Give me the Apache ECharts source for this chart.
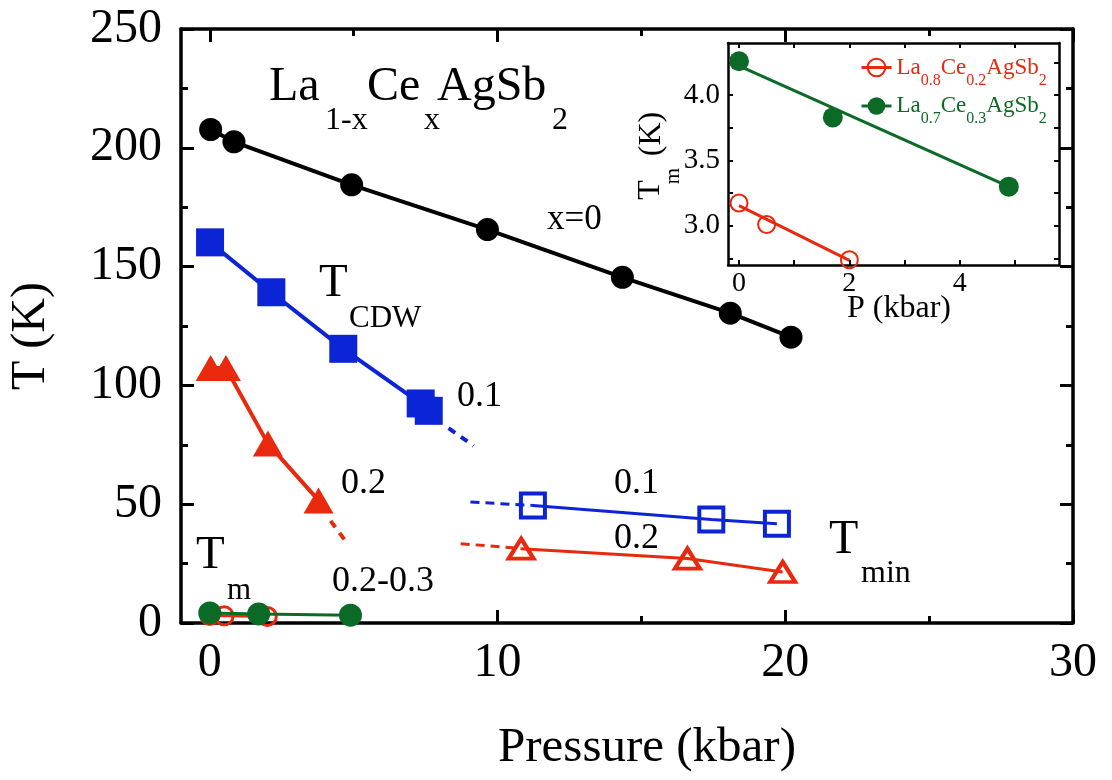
<!DOCTYPE html>
<html><head><meta charset="utf-8">
<script src="https://cdn.jsdelivr.net/npm/echarts@6/dist/echarts.min.js"></script>
<style>html,body{margin:0;padding:0;background:#fff}#c{width:1112px;height:780px}</style>
</head><body><div id="c"></div>
<script>
// ---------- data ----------
// T_CDW, x = 0
const x0P = [0.03, 0.84, 4.93, 9.65, 14.34, 18.09, 20.2];
const x0T = [207.7, 202.5, 184.4, 165.6, 145.5, 130.4, 120.3];
// T_CDW, x = 0.1
const cdw01P = [0.01, 2.14, 4.64, 7.33, 7.61];
const cdw01T = [160.2, 139.2, 115.4, 92.4, 89.3];
const cdw01ExtP = [8.3, 9.17];
const cdw01ExtT = [82.0, 74.6];
// T_CDW, x = 0.2
const cdw02P = [0.03, 0.56, 2.02, 3.78];
const cdw02T = [107.3, 107.3, 75.5, 51.6];
const cdw02ExtP = [4.2, 4.75];
const cdw02ExtT = [43.0, 34.0];
// T_min, x = 0.1
const tmin01P = [11.23, 17.43, 19.71];
const tmin01T = [49.5, 43.6, 41.8];
const tmin01ExtP = [9.06, 11.23];
const tmin01ExtT = [50.9, 49.5];
// T_min, x = 0.2
const tmin02P = [10.82, 16.6, 19.91];
const tmin02T = [31.3, 27.1, 21.5];
const tmin02ExtP = [8.72, 10.82];
const tmin02ExtT = [33.4, 31.3];
// T_m (x = 0.2 and x = 0.3)
const tm02P = [0, 0.5, 2.0];
const tm02T = [3.175, 3.01, 2.74];
const tm03P = [0, 1.7, 4.89];
const tm03T = [4.26, 3.83, 3.30];
// linear fits shown in the inset
const tm02FitP = [0, 2.0];
const tm02FitT = [3.155, 2.735];
const tm03FitP = [0, 4.89];
const tm03FitT = [4.224, 3.30];
// ticks
const mainXMajor = [0, 10, 20, 30];
const mainXMinor = [5, 15, 25];
const insetXTicks = [0, 1, 2, 3, 4, 5];
const insetXLabels = [0, 2, 4];
const insetYTicks = [2.75, 3.0, 3.25, 3.5, 3.75, 4.0, 4.25];
const insetYLabels = [3.0, 3.5, 4.0];
const legendNames = ['La0.8Ce0.2AgSb2', 'La0.7Ce0.3AgSb2'];

// ---------- styling ----------
const FF = '"Liberation Serif", "Times New Roman", serif';
const BLACK = '#000000', BLUE = '#0b24d6', RED = '#e8290e', GREEN = '#0b6b26';
const zip = (a, b) => a.map((v, i) => [v, b[i]]);

function xAx(grid, pos, min, max, ticks, len, w, labels, fs, lineW, showLine) {
  return {
    type: 'value', gridIndex: grid, position: pos, min: min, max: max,
    axisLine: { show: showLine, onZero: false, lineStyle: { color: BLACK, width: lineW } },
    axisTick: { show: true, inside: true, length: len, customValues: ticks, lineStyle: { color: BLACK, width: w } },
    axisLabel: labels ? { show: true, customValues: labels, fontSize: fs, fontFamily: FF, color: BLACK, margin: grid === 0 ? 16 : 5 } : { show: false },
    splitLine: { show: false }, minorSplitLine: { show: false }
  };
}

const xAxes = [
  xAx(0, 'bottom', -1, 30, mainXMajor, 13, 3, mainXMajor, 48, 3.5, true),
  xAx(0, 'bottom', -1, 30, mainXMinor, 7, 3, null, 48, 3.5, false),
  xAx(0, 'top', -1, 30, mainXMajor, 13, 3, null, 48, 3.5, true),
  xAx(0, 'top', -1, 30, mainXMinor, 7, 3, null, 48, 3.5, false),
  xAx(1, 'bottom', -0.2, 5.8, insetXTicks, 5, 2, insetXLabels, 28, 2.5, true),
  xAx(1, 'top', -0.2, 5.8, insetXTicks, 5, 2, null, 28, 2.5, true)
];

function mainY(pos, labels) {
  return {
    type: 'value', gridIndex: 0, position: pos, min: 0, max: 250, interval: 50,
    axisLine: { show: true, onZero: false, lineStyle: { color: BLACK, width: 3.5 } },
    axisTick: { show: true, inside: true, length: 13, lineStyle: { color: BLACK, width: 3 } },
    minorTick: { show: true, splitNumber: 2, length: 7, lineStyle: { color: BLACK, width: 3 } },
    axisLabel: labels ? { show: true, fontSize: 48, fontFamily: FF, color: BLACK, margin: 19 } : { show: false },
    splitLine: { show: false }, minorSplitLine: { show: false }
  };
}
function insetY(pos, labels) {
  return {
    type: 'value', gridIndex: 1, position: pos, min: 2.7, max: 4.4,
    axisLine: { show: true, onZero: false, lineStyle: { color: BLACK, width: 2.5 } },
    axisTick: { show: true, inside: true, length: 5, customValues: insetYTicks, lineStyle: { color: BLACK, width: 2 } },
    axisLabel: labels ? { show: true, customValues: insetYLabels, formatter: v => Number(v).toFixed(1), fontSize: 29, fontFamily: FF, color: BLACK, margin: 8 } : { show: false },
    splitLine: { show: false }, minorSplitLine: { show: false }
  };
}
const yAxes = [mainY('left', true), mainY('right', false), insetY('left', true), insetY('right', false)];

function lineSer(name, P, T, o) {
  return {
    name: name, type: 'line', xAxisIndex: o.xi || 0, yAxisIndex: o.yi || 0,
    data: zip(P, T), silent: true, animation: false, z: o.z || 3,
    symbol: o.symbol || 'none', symbolSize: o.size || 0, showSymbol: o.showSymbol !== false,
    lineStyle: { color: o.color, width: o.lw, type: o.dash || 'solid' },
    itemStyle: o.hollow ? { color: 'rgba(0,0,0,0)', borderColor: o.color, borderWidth: o.bw, opacity: 1 } : { color: o.color, borderWidth: 0, opacity: 1 },
    emphasis: { disabled: true }
  };
}

const series = [
  // main plot
  lineSer('cdw01ext', cdw01ExtP, cdw01ExtT, { color: BLUE, lw: 4, dash: [8, 7], z: 2 }),
  lineSer('cdw02ext', cdw02ExtP, cdw02ExtT, { color: RED, lw: 4, dash: [8, 7], z: 2 }),
  lineSer('tmin01ext', tmin01ExtP, tmin01ExtT, { color: BLUE, lw: 3, dash: [9, 6], z: 2 }),
  lineSer('tmin02ext', tmin02ExtP, tmin02ExtT, { color: RED, lw: 3, dash: [9, 6], z: 2 }),
  lineSer('x0', x0P, x0T, { color: BLACK, lw: 4, symbol: 'circle', size: 23 }),
  lineSer('cdw01', cdw01P, cdw01T, { color: BLUE, lw: 4, symbol: 'rect', size: 28 }),
  lineSer('cdw02', cdw02P, cdw02T, { color: RED, lw: 4, symbol: 'triangle', size: [30, 26] }),
  lineSer('tmin01', tmin01P, tmin01T, { color: BLUE, lw: 3, symbol: 'rect', size: 24, hollow: true, bw: 4 }),
  lineSer('tmin02', tmin02P, tmin02T, { color: RED, lw: 3, symbol: 'triangle', size: [25, 20], hollow: true, bw: 4 }),
  lineSer('tm02main', tm02P, tm02T, { color: RED, lw: 3, symbol: 'circle', size: 18, hollow: true, bw: 3, z: 4 }),
  lineSer('tm03main', tm03P, tm03T, { color: GREEN, lw: 3, symbol: 'circle', size: 23, z: 5 }),
  // inset: fits (carry the legend) and points
  lineSer(legendNames[0], tm02FitP, tm02FitT, { xi: 4, yi: 2, color: RED, lw: 3, symbol: 'circle', size: 16, showSymbol: false, hollow: true, bw: 2, z: 6 }),
  lineSer(legendNames[1], tm03FitP, tm03FitT, { xi: 4, yi: 2, color: GREEN, lw: 3, symbol: 'circle', size: 19, showSymbol: false, z: 6 }),
  { name: 'tm02pts', type: 'scatter', xAxisIndex: 4, yAxisIndex: 2, data: zip(tm02P, tm02T), symbol: 'circle', symbolSize: 17,
    itemStyle: { color: 'rgba(0,0,0,0)', borderColor: RED, borderWidth: 2, opacity: 1 }, silent: true, animation: false, z: 7 },
  { name: 'tm03pts', type: 'scatter', xAxisIndex: 4, yAxisIndex: 2, data: zip(tm03P, tm03T), symbol: 'circle', symbolSize: 20,
    itemStyle: { color: GREEN, opacity: 1 }, silent: true, animation: false, z: 7 }
];

// ---------- text annotations ----------
function txt(s, x, baseline, fs, opt) {
  opt = opt || {};
  return {
    type: 'text', x: x, y: baseline, z: 100, silent: true,
    style: { text: s, x: 0, y: -0.305 * fs, font: fs + 'px ' + FF, fill: opt.color || BLACK,
             align: opt.align || 'left', textAlign: opt.align || 'left',
             verticalAlign: 'middle', textVerticalAlign: 'middle' }
  };
}
function rtxt(s, cx, cy, fs) { // rotated 90deg, centred at (cx, cy) on the em-middle
  return {
    type: 'text', x: cx, y: cy, rotation: Math.PI / 2, z: 100, silent: true,
    style: { text: s, x: 0, y: 0, font: fs + 'px ' + FF, fill: BLACK, align: 'center', textAlign: 'center', verticalAlign: 'middle', textVerticalAlign: 'middle' }
  };
}

const graphics = [
  txt('La', 269, 102, 48), txt('1-x', 325, 130, 32), txt('Ce', 367, 102, 48), txt('x', 424, 130, 32),
  txt('AgSb', 437, 102, 48), txt('2', 552, 130, 32),
  txt('x=0', 547, 230, 35),
  txt('T', 319, 298, 47), txt('CDW', 349, 328, 31),
  txt('0.1', 457, 408, 36),
  txt('0.2', 341, 495, 36),
  txt('T', 196, 570, 47), txt('m', 227, 600, 31),
  txt('0.2-0.3', 332, 593, 36),
  txt('0.1', 614, 495, 36),
  txt('0.2', 614, 550, 36),
  txt('T', 829, 555, 48), txt('min', 861, 583, 32),
  txt('Pressure (kbar)', 647, 763, 49, { align: 'center' }),
  rtxt('T (K)', 31, 336, 48),
  txt('P (kbar)', 899, 318, 32, { align: 'center' }),
  rtxt('T', 651, 190, 32), rtxt('m', 673, 176, 21), rtxt('(K)', 652, 134, 32)
];

const richStyles = {};
[['r', RED], ['g', GREEN]].forEach(([k, c]) => {
  richStyles[k + 'b'] = { color: c, fontSize: 23, fontFamily: FF, lineHeight: 42 };
  richStyles[k + 's'] = { color: c, fontSize: 16, fontFamily: FF, lineHeight: 42, verticalAlign: 'bottom' };
});

const option = {
  animation: false,
  backgroundColor: '#ffffff',
  grid: [
    { left: 181, top: 29, right: 39, bottom: 157, containLabel: false },
    { left: 728, top: 43, right: 53, bottom: 515, containLabel: false, show: true, backgroundColor: '#ffffff', borderWidth: 0 }
  ],
  xAxis: xAxes,
  yAxis: yAxes,
  legend: {
    show: true, orient: 'vertical', left: 860, top: 56, padding: 0, itemGap: 6, z: 20,
    itemWidth: 30, itemHeight: 22, selectedMode: false,
    data: [
      { name: legendNames[0], itemStyle: { color: 'rgba(0,0,0,0)', borderColor: RED, borderWidth: 2 }, lineStyle: { color: RED, width: 3 } },
      { name: legendNames[1], itemStyle: { color: GREEN, borderWidth: 0 }, lineStyle: { color: GREEN, width: 3 } }
    ],
    formatter: function (name) {
      const k = name === legendNames[0] ? 'r' : 'g';
      const a = name === legendNames[0] ? ['0.8', '0.2'] : ['0.7', '0.3'];
      return '{' + k + 'b|La}{' + k + 's|' + a[0] + '}{' + k + 'b|Ce}{' + k + 's|' + a[1] + '}{' + k + 'b|AgSb}{' + k + 's|2}';
    },
    textStyle: { rich: richStyles }
  },
  series: series,
  graphic: { elements: graphics }
};

const chart = echarts.init(document.getElementById('c'), null, { renderer: 'canvas' });
chart.setOption(option);
</script></body></html>
